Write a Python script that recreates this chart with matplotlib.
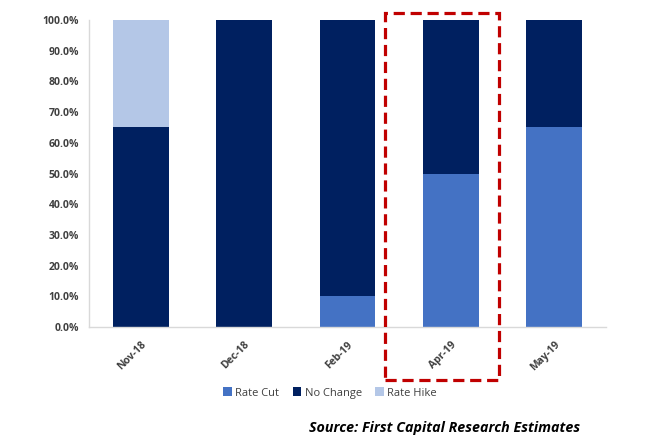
import matplotlib
matplotlib.use("Agg")
import matplotlib.pyplot as plt
from matplotlib.patches import Rectangle
from matplotlib.ticker import FuncFormatter
import numpy as np

categories = ["Nov-18", "Dec-18", "Feb-19", "Apr-19", "May-19"]
rate_cut = [0, 0, 10, 50, 65]
no_change = [65, 100, 90, 50, 35]
rate_hike = [35, 0, 0, 0, 0]
series_names = ["Rate Cut", "No Change", "Rate Hike"]
colors = ["#4472C4", "#002060", "#B4C7E7"]

plt.rcParams['font.family'] = ['Open Sans', 'DejaVu Sans']

fig = plt.figure(figsize=(6.6, 4.4), dpi=100)
ax = fig.add_axes([0.1348, 0.2568, 0.918 - 0.1348, 0.9545 - 0.2568])

x = np.arange(len(categories))
w = 0.54
bottom = np.zeros(len(categories))
handles = []
for vals, name, c in zip([rate_cut, no_change, rate_hike], series_names, colors):
    b = ax.bar(x, vals, w, bottom=bottom, color=c, label=name, zorder=2)
    handles.append(b)
    bottom += np.array(vals)

ax.set_xlim(-0.5, 4.5)
ax.set_ylim(0, 100)
ax.set_yticks(np.arange(0, 101, 10))
ax.yaxis.set_major_formatter(FuncFormatter(lambda v, p: f"{v:.1f}%"))
ax.set_xticks(x)
ax.set_xticklabels(categories, rotation=45, ha='right', rotation_mode='anchor')
for lab in ax.get_xticklabels() + ax.get_yticklabels():
    lab.set_fontweight('bold')
    lab.set_fontsize(7.5)
    lab.set_color('#404040')
ax.tick_params(axis='both', length=0)
ax.tick_params(axis='x', pad=9)
ax.tick_params(axis='y', pad=7)
for s in ['top', 'right']:
    ax.spines[s].set_visible(False)
for s in ['left', 'bottom']:
    ax.spines[s].set_color('#D9D9D9')
    ax.spines[s].set_linewidth(1.0)

# highlight box around Apr-19
rect = Rectangle((2.368, -17.3), 3.471 - 2.368, 102.3 + 17.3, fill=False,
                 edgecolor='#C00000', linestyle=(0, (3.5, 1.8)), linewidth=2.3,
                 clip_on=False, zorder=5)
ax.add_patch(rect)

leg = fig.legend(handles=handles, labels=series_names, loc='center',
                 bbox_to_anchor=(0.5, 1 - 393 / 440), ncol=3, frameon=False,
                 fontsize=8, handlelength=0.8, handleheight=0.8,
                 handletextpad=0.3, columnspacing=1.2)
for t in leg.get_texts():
    t.set_color('#404040')

fig.text(580 / 660, 1 - 428 / 440, "Source: First Capital Research Estimates",
         ha='right', va='center', fontsize=10.3, fontweight='bold',
         fontstyle='italic', color='#000000')

fig.savefig("out.png", dpi=100)
